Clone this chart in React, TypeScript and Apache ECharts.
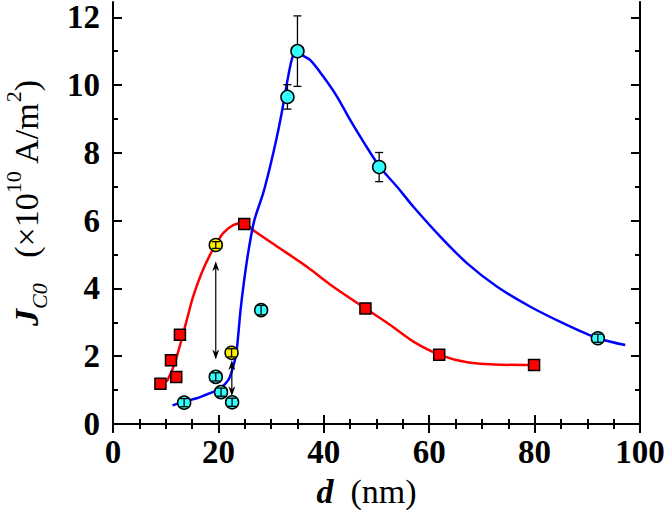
import React, { useEffect, useRef } from 'react';
import * as echarts from 'echarts';

// ---- data ----
const xTickValues = [0, 20, 40, 60, 80, 100];
const yTickValues = [0, 2, 4, 6, 8, 10, 12];
const yMinorTickValues = [1, 3, 5, 7, 9, 11];

const redX = [9.0, 11.0, 12.0, 12.7, 24.9, 47.9, 61.9, 79.9];
const redY = [1.19, 1.88, 1.39, 2.63, 5.9, 3.41, 2.04, 1.74];

const cyanX = [13.5, 19.5, 20.5, 22.6, 28.1, 33.1, 35.0, 50.5, 92.0];
const cyanY = [0.63, 1.39, 0.94, 0.64, 3.36, 9.65, 11.0, 7.58, 2.53];
const cyanErr = [0.12, 0.12, 0.12, 0.12, 0.14, 0.36, 1.04, 0.43, 0.12];

const yellowX = [19.5, 22.5];
const yellowY = [5.28, 2.1];
const yellowErr = [0.1, 0.12];

const redFitX = [10.2, 11.1, 12.1, 13.0, 14.0, 15.2, 16.8, 18.4, 19.5, 20.9, 22.8, 24.9, 26.6, 31.7, 36.8, 41.8, 48.0, 52.6, 57.0, 62.0, 67.2, 73.5, 79.9];
const redFitY = [1.25, 1.54, 1.99, 2.48, 3.07, 3.76, 4.45, 4.99, 5.28, 5.63, 5.87, 5.93, 5.72, 5.18, 4.64, 4.05, 3.4, 2.92, 2.43, 2.04, 1.82, 1.75, 1.74];

const blueFitX = [11.3, 13.4, 15.9, 18.4, 20.3, 21.9, 22.8, 23.4, 23.8, 24.2, 24.9, 25.7, 26.8, 28.5, 29.8, 31.0, 32.0, 33.3, 34.1, 35.0, 35.8, 37.4, 39.9, 42.5, 45.0, 47.5, 50.6, 53.9, 57.0, 62.1, 67.2, 72.9, 79.2, 85.5, 92.0, 97.2];
const blueFitY = [0.55, 0.66, 0.76, 0.91, 1.05, 1.3, 1.69, 2.09, 2.68, 3.36, 4.25, 5.1, 6.0, 6.81, 7.59, 8.4, 9.17, 10.3, 10.84, 11.0, 10.89, 10.74, 10.25, 9.66, 8.97, 8.33, 7.59, 7.0, 6.41, 5.53, 4.74, 4.05, 3.46, 2.97, 2.53, 2.33];

const arrowX = [19.5, 22.55];
const arrowFrom = [4.8, 1.88];
const arrowTo = [1.9, 0.82];

const FONT = 'Liberation Serif';

const zip = (xs: number[], ys: number[]) => xs.map((x, i) => [x, ys[i]]);

export default function App() {
  const ref = useRef<HTMLDivElement>(null);

  useEffect(() => {
    document.body.style.margin = '0';
    if (!ref.current) return;
    const chart = echarts.init(ref.current, null, { renderer: 'svg' });

    const errAll = [
      ...cyanX.map((x, i) => [x, cyanY[i], cyanErr[i]]),
      ...yellowX.map((x, i) => [x, yellowY[i], yellowErr[i]]),
    ];
    const errBig = errAll.filter((d) => d[2] > 0.3);
    const errSmall = errAll.filter((d) => d[2] <= 0.3);

    const errRender = (params: any, api: any) => {
      const x = api.value(0);
      const y = api.value(1);
      const e = api.value(2);
      const t = api.coord([x, y + e]);
      const b = api.coord([x, y - e]);
      const hw = 4;
      const style = { stroke: '#000', lineWidth: 1.3 };
      return {
        type: 'group',
        children: [
          { type: 'line', shape: { x1: t[0], y1: t[1], x2: b[0], y2: b[1] }, style },
          { type: 'line', shape: { x1: t[0] - hw, y1: t[1], x2: t[0] + hw, y2: t[1] }, style },
          { type: 'line', shape: { x1: b[0] - hw, y1: b[1], x2: b[0] + hw, y2: b[1] }, style },
        ],
      };
    };

    const arrowRender = (params: any, api: any) => {
      const x = api.value(0);
      const a = api.coord([x, api.value(1)]);
      const b = api.coord([x, api.value(2)]);
      const hl = 10;
      const hw = 3.5;
      const top = a[1] < b[1] ? a : b;
      const bot = a[1] < b[1] ? b : a;
      const style = { stroke: '#000', lineWidth: 1.2 };
      return {
        type: 'group',
        children: [
          { type: 'line', shape: { x1: top[0], y1: top[1] + 4, x2: bot[0], y2: bot[1] - 4 }, style },
          {
            type: 'polygon',
            shape: { points: [[top[0], top[1]], [top[0] - hw, top[1] + hl], [top[0], top[1] + hl - 3], [top[0] + hw, top[1] + hl]] },
            style: { fill: '#000' },
          },
          {
            type: 'polygon',
            shape: { points: [[bot[0], bot[1]], [bot[0] - hw, bot[1] - hl], [bot[0], bot[1] - hl + 3], [bot[0] + hw, bot[1] - hl]] },
            style: { fill: '#000' },
          },
        ],
      };
    };

    const axisLineStyle = { color: '#000', width: 2 };
    const labelStyle = { fontSize: 33, fontWeight: 'bold' as const, color: '#000', fontFamily: FONT };

    const xBase = {
      type: 'value' as const,
      min: 0,
      max: 100,
      interval: 20,
      splitLine: { show: false },
      axisLine: { show: true, lineStyle: axisLineStyle },
      axisTick: { show: true, inside: true, length: 9, lineStyle: { color: '#000', width: 2 } },
      minorTick: { show: true, splitNumber: 4, length: 5, lineStyle: { color: '#000', width: 2 } },
    };

    const yBase = {
      type: 'value' as const,
      min: 0,
      max: 12.45,
      splitLine: { show: false },
      minorTick: { show: false },
    };

    const option: any = {
      animation: false,
      backgroundColor: '#fff',
      textStyle: { fontFamily: FONT },
      grid: { left: 113, right: 26, top: 2, bottom: 86, containLabel: false, outerBoundsMode: 'none' },
      xAxis: [
        {
          ...xBase,
          position: 'bottom',
          axisLabel: { ...labelStyle, margin: 11 },
          name: '{d|d}{n|  (nm)}',
          nameLocation: 'middle',
          nameGap: 50,
          nameTextStyle: {
            fontFamily: FONT,
            padding: [0, 20, 0, 0],
            rich: {
              d: { fontFamily: FONT, fontSize: 34, fontWeight: 'bold', fontStyle: 'italic', color: '#000' },
              n: { fontFamily: FONT, fontSize: 34, color: '#000' },
            },
          },
        },
        { ...xBase, position: 'top', axisLabel: { show: false } },
      ],
      yAxis: [
        {
          ...yBase,
          position: 'left',
          axisLine: { show: true, lineStyle: axisLineStyle },
          axisTick: { show: true, inside: true, length: 9, customValues: yTickValues, lineStyle: { color: '#000', width: 2 } },
          axisLabel: { ...labelStyle, margin: 13, customValues: yTickValues },
        },
        {
          ...yBase,
          position: 'left',
          axisLine: { show: false },
          axisTick: { show: true, inside: true, length: 5, customValues: yMinorTickValues, lineStyle: { color: '#000', width: 2 } },
          axisLabel: { show: false },
        },
        {
          ...yBase,
          position: 'right',
          axisLine: { show: true, lineStyle: axisLineStyle },
          axisTick: { show: true, inside: true, length: 9, customValues: yTickValues, lineStyle: { color: '#000', width: 2 } },
          axisLabel: { show: false },
        },
        {
          ...yBase,
          position: 'right',
          axisLine: { show: false },
          axisTick: { show: true, inside: true, length: 5, customValues: yMinorTickValues, lineStyle: { color: '#000', width: 2 } },
          axisLabel: { show: false },
        },
      ],
      graphic: [
        {
          type: 'text',
          x: 26,
          y: 203,
          rotation: Math.PI / 2,
          style: {
            text: '{j|J}{sub|C0}{n|   (×10}{sup|10}{n| A/m}{sup|2}{n|)}',
            align: 'center',
            verticalAlign: 'middle',
            fill: '#000',
            fontFamily: FONT,
            rich: {
              j: { fontFamily: FONT, fontSize: 34, fontWeight: 'bold', fontStyle: 'italic', lineHeight: 48, fill: '#000' },
              sub: { fontFamily: FONT, fontSize: 22, fontStyle: 'italic', verticalAlign: 'bottom', lineHeight: 34, fill: '#000' },
              n: { fontFamily: FONT, fontSize: 34, lineHeight: 48, fill: '#000' },
              sup: { fontFamily: FONT, fontSize: 22, verticalAlign: 'top', lineHeight: 12, fill: '#000' },
            },
          },
        },
      ],
      series: [
        {
          type: 'line',
          data: zip(redFitX, redFitY),
          smooth: 0.3,
          symbol: 'none',
          lineStyle: { color: '#ff0000', width: 2.5 },
          z: 2,
        },
        {
          type: 'line',
          data: zip(blueFitX, blueFitY),
          smooth: 0.3,
          symbol: 'none',
          lineStyle: { color: '#0000ff', width: 2.5 },
          z: 2,
        },
        {
          type: 'custom',
          data: errBig,
          renderItem: errRender,
          encode: { x: 0, y: 1 },
          z: 3,
        },
        {
          type: 'scatter',
          data: zip(redX, redY),
          symbol: 'rect',
          symbolSize: 11,
          itemStyle: { color: '#ff0000', borderColor: '#000', borderWidth: 1.5, opacity: 1 },
          z: 4,
        },
        {
          type: 'scatter',
          data: zip(cyanX, cyanY),
          symbol: 'circle',
          symbolSize: 13,
          itemStyle: { color: '#33ffff', borderColor: '#000', borderWidth: 1.5, opacity: 1 },
          z: 4,
        },
        {
          type: 'scatter',
          data: zip(yellowX, yellowY),
          symbol: 'circle',
          symbolSize: 13,
          itemStyle: { color: '#fff000', borderColor: '#000', borderWidth: 1.5, opacity: 1 },
          z: 4,
        },
        {
          type: 'custom',
          data: errSmall,
          renderItem: errRender,
          encode: { x: 0, y: 1 },
          z: 5,
        },
        {
          type: 'custom',
          data: arrowX.map((x, i) => [x, arrowFrom[i], arrowTo[i]]),
          renderItem: arrowRender,
          encode: { x: 0, y: [1, 2] },
          z: 5,
        },
      ],
    };

    chart.setOption(option);
    return () => chart.dispose();
  }, []);

  return <div ref={ref} style={{ width: 666, height: 510 }} />;
}
